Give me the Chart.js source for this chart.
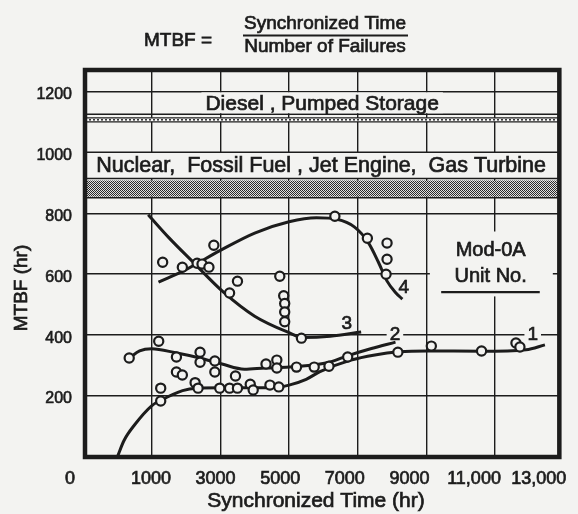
<!DOCTYPE html>
<html>
<head>
<meta charset="utf-8">
<script src="https://cdn.jsdelivr.net/npm/chart.js@4.4.1/dist/chart.umd.min.js"></script>
<style>
html, body { margin: 0; padding: 0; background: #f3f3f1; }
canvas { display: block; }
</style>
</head>
<body>
<canvas id="mtbf" width="578" height="514"></canvas>
<script>
// tick labels
const xGridValues = [1000, 3000, 5000, 7000, 9000, 11000]
const xTickValues = [1000, 3000, 5000, 7000, 9000, 11000, 13000]
const xTickLabels = ['1000', '3000', '5000', '7000', '9000', '11,000', '13,000']
const yTickValues = [0, 200, 400, 600, 800, 1000, 1200]

// fitted MTBF curves, Mod-0A units 1-4 (hr, hr)
const unit1X = [0, 200, 500, 1000, 1300, 1900, 2300, 3000, 3800, 4700, 5000, 5500, 5900, 6800, 7500, 8200, 9000, 10600, 11900, 12450]
const unit1Y = [0, 55, 105, 168, 188, 218, 226, 227, 227, 230, 236, 255, 280, 318, 335, 345, 348, 347, 352, 368]
const unit2X = [350, 650, 1000, 1700, 2400, 3050, 3700, 4300, 5000, 5700, 6200, 6700, 7400, 8100]
const unit2Y = [325, 348, 355, 342, 325, 305, 288, 292, 295, 302, 312, 332, 356, 377]
const unit3X = [900, 1500, 2150, 3100, 4000, 5000, 5400, 6200, 7100]
const unit3Y = [795, 720, 646, 540, 462, 408, 392, 396, 410]
const unit4X = [1200, 2000, 3000, 4000, 5000, 5800, 6400, 6900, 7300, 7600, 7850, 8100, 8300]
const unit4Y = [574, 615, 678, 735, 772, 785, 780, 755, 705, 640, 578, 540, 518]

// observed MTBF values
const obsX = [1321, 1894, 2324, 2467, 2668, 2811, 3499, 3269, 6335, 7281, 7854, 7854, 7825, 4731, 4845, 4874, 4874, 4874, 5361,
  1206, 347, 1722, 2410, 2410, 2840, 2840, 3441, 1722, 1894, 2266, 2352, 1264, 1264, 2983, 3269, 3499, 3871, 3957, 4444, 4702,
  4330, 4645, 4645, 5218, 5733, 6163, 6708, 8169, 9143, 10605, 11607, 11722]
const obsY = [639, 623, 636, 633, 623, 695, 577, 538, 790, 718, 702, 649, 600, 593, 529, 504, 476, 444, 390,
  380, 325, 328, 344, 311, 315, 279, 266, 279, 269, 244, 226, 226, 184, 226, 226, 226, 239, 220, 236, 230,
  305, 318, 292, 295, 295, 298, 328, 344, 364, 348, 374, 361]

// MTBF ranges of other plant types (hr)
const dieselBox = [1125, 1200]
const dieselBand = [1100, 1113]
const nuclearBox = [914, 1000]
const nuclearBand = [851, 914]

const ink = '#1c1c1c'
const paper = '#f3f3f1'
const family = "'Liberation Sans', Arial, sans-serif"
Chart.defaults.font.family = family
Chart.defaults.color = ink

const zip = (xs, ys) => xs.map((v, i) => ({x: v, y: ys[i]}))

function curve(xs, ys) {
  return {
    type: 'line', data: zip(xs, ys), borderColor: ink, borderWidth: 3,
    pointRadius: 0, cubicInterpolationMode: 'monotone', fill: false
  }
}

// hatch for the nuclear/fossil band
function hatch() {
  const c = document.createElement('canvas')
  c.width = 4; c.height = 4
  const g = c.getContext('2d')
  g.fillStyle = '#e0e0e0'
  g.fillRect(0, 0, 4, 4)
  g.fillStyle = '#2a2a2a'
  for (let i = 0; i < 4; i++) for (let j = 0; j < 4; j++) if ((i + j) % 2 === 0) g.fillRect(i, j, 1, 1)
  return c
}

// scanned type looks heavy, so give text a thin outline
function say(ctx, str, px, py, font) {
  if (font) ctx.font = font
  ctx.fillStyle = ink
  ctx.strokeStyle = ink
  ctx.lineWidth = 0.7
  ctx.fillText(str, px, py)
  ctx.strokeText(str, px, py)
}

function textBox(ctx, str, cx, cy, font) {
  ctx.font = font
  const w = ctx.measureText(str).width
  ctx.fillStyle = paper
  ctx.fillRect(cx - w / 2 - 3, cy - 9, w + 6, 18)
  say(ctx, str, cx, cy)
}

const overlay = {
  id: 'overlay',
  beforeDatasetsDraw(chart) {
    const {ctx, chartArea: a, scales: {x, y}} = chart
    const L = a.left, R = a.right
    const hline = (py, w) => { ctx.strokeStyle = ink; ctx.lineWidth = w || 1.4; ctx.beginPath(); ctx.moveTo(L, py); ctx.lineTo(R, py); ctx.stroke() }
    ctx.save()
    ctx.textAlign = 'center'
    ctx.textBaseline = 'middle'
    const cx = (L + R) / 2

    // Diesel, pumped storage
    const d0 = y.getPixelForValue(dieselBox[1]), d1 = y.getPixelForValue(dieselBox[0])
    hline(d1)
    ctx.font = '21px ' + family
    let w = ctx.measureText('Diesel , Pumped Storage').width
    ctx.fillStyle = paper
    ctx.fillRect(cx - w / 2 - 4, d0 + 1, w + 8, d1 - d0 - 2)
    say(ctx, 'Diesel , Pumped Storage', cx, (d0 + d1) / 2 + 1)
    const b0 = y.getPixelForValue(dieselBand[1]), b1 = y.getPixelForValue(dieselBand[0])
    ctx.fillStyle = '#fafafa'
    ctx.fillRect(L, b0, R - L, b1 - b0)
    hline(b0, 1.3); hline(b1, 1.3)
    ctx.setLineDash([2, 2])
    hline((b0 + b1) / 2, 1.4)
    ctx.setLineDash([])

    // Nuclear, fossil fuel, jet engine, gas turbine
    const n0 = y.getPixelForValue(nuclearBox[1]), n1 = y.getPixelForValue(nuclearBox[0])
    ctx.fillStyle = paper
    ctx.fillRect(L, n0, R - L, n1 - n0)
    say(ctx, 'Nuclear,  Fossil Fuel , Jet Engine,  Gas Turbine', cx - 1, (n0 + n1) / 2 + 1, '21.5px ' + family)
    const h1 = y.getPixelForValue(nuclearBand[0])
    ctx.fillStyle = ctx.createPattern(hatch(), 'repeat')
    ctx.fillRect(L, n1 + 2, R - L, h1 - n1 - 3)
    hline(n0); hline(n1, 1.6); hline(h1, 1.6)

    // Mod-0A key
    const kx0 = x.getPixelForValue(9100), kx1 = x.getPixelForValue(12680)
    const ky0 = y.getPixelForValue(740), ky1 = y.getPixelForValue(527)
    ctx.fillStyle = paper
    ctx.fillRect(kx0, ky0, kx1 - kx0, ky1 - ky0)
    const kc = x.getPixelForValue(10870)
    say(ctx, 'Mod-0A', kc, y.getPixelForValue(679), '20px ' + family)
    say(ctx, 'Unit No.', kc, y.getPixelForValue(594))
    ctx.lineWidth = 2.4
    ctx.beginPath()
    ctx.moveTo(x.getPixelForValue(9430), y.getPixelForValue(541))
    ctx.lineTo(x.getPixelForValue(12300), y.getPixelForValue(541))
    ctx.stroke()

    // unit numbers on the curves
    const f = '19px ' + family
    textBox(ctx, '1', x.getPixelForValue(12095), y.getPixelForValue(400), f)
    textBox(ctx, '2', x.getPixelForValue(8083), y.getPixelForValue(400), f)
    say(ctx, '3', x.getPixelForValue(6680), y.getPixelForValue(436), f)
    say(ctx, '4', x.getPixelForValue(8340), y.getPixelForValue(554), f)
    ctx.restore()
  },
  afterDraw(chart) {
    const {ctx, chartArea: a} = chart
    ctx.save()
    ctx.strokeStyle = ink
    ctx.lineWidth = 4.5
    ctx.strokeRect(a.left, a.top, a.right - a.left, a.bottom - a.top)

    ctx.textAlign = 'center'
    ctx.textBaseline = 'middle'
    say(ctx, '0', a.left - 15, 479, '18px ' + family)
    say(ctx, 'Synchronized Time (hr)', 316, 501, '21px ' + family)

    ctx.save()
    ctx.translate(22, 288)
    ctx.rotate(-Math.PI / 2)
    say(ctx, 'MTBF (hr)', 0, 0, '19px ' + family)
    ctx.restore()

    // MTBF formula
    say(ctx, 'MTBF =', 178, 41, '19px ' + family)
    say(ctx, 'Synchronized Time', 325, 24)
    say(ctx, 'Number of Failures', 325, 47)
    ctx.lineWidth = 1.8
    ctx.beginPath()
    ctx.moveTo(243, 35.5)
    ctx.lineTo(408, 35.5)
    ctx.stroke()
    ctx.restore()
  }
}

new Chart(document.getElementById('mtbf'), {
  type: 'scatter',
  data: {
    datasets: [
      {
        data: zip(obsX, obsY), pointRadius: 4.6, pointBorderWidth: 2.2,
        pointBorderColor: ink, pointBackgroundColor: paper, showLine: false
      },
      curve(unit1X, unit1Y),
      curve(unit2X, unit2Y),
      curve(unit3X, unit3Y),
      curve(unit4X, unit4Y)
    ]
  },
  options: {
    responsive: false,
    animation: false,
    layout: {padding: {top: 70, right: 11, left: 0, bottom: 0}},
    plugins: {legend: {display: false}, tooltip: {enabled: false}},
    scales: {
      x: {
        type: 'linear', position: 'top', min: -940, max: 12870,
        afterBuildTicks: s => { s.ticks = xGridValues.map(v => ({value: v})) },
        ticks: {display: false},
        grid: {color: ink, lineWidth: 1.4, drawTicks: false},
        border: {display: false},
        afterFit: s => { s.height = 0 }
      },
      xLab: {
        type: 'linear', position: 'bottom', min: -1041, max: 13640,
        afterBuildTicks: s => { s.ticks = xTickValues.map(v => ({value: v})) },
        ticks: {
          callback: (v, i) => xTickLabels[i], font: {size: 18}, color: ink,
          textStrokeColor: ink, textStrokeWidth: 0.7,
          padding: 11, maxRotation: 0, autoSkip: false
        },
        grid: {display: false, drawTicks: false},
        border: {display: false},
        afterFit: s => { s.height = 57 }
      },
      y: {
        type: 'linear', position: 'left', min: 0, max: 1270,
        afterBuildTicks: s => { s.ticks = yTickValues.map(v => ({value: v})) },
        ticks: {
          callback: v => v === 0 ? '' : String(v), font: {size: 16}, color: ink,
          textStrokeColor: ink, textStrokeWidth: 0.6, padding: 13, labelOffset: 3
        },
        grid: {color: ink, lineWidth: 1.4, drawTicks: false},
        border: {display: false},
        afterFit: s => { s.width = 85 }
      }
    }
  },
  plugins: [overlay]
})
</script>
</body>
</html>
